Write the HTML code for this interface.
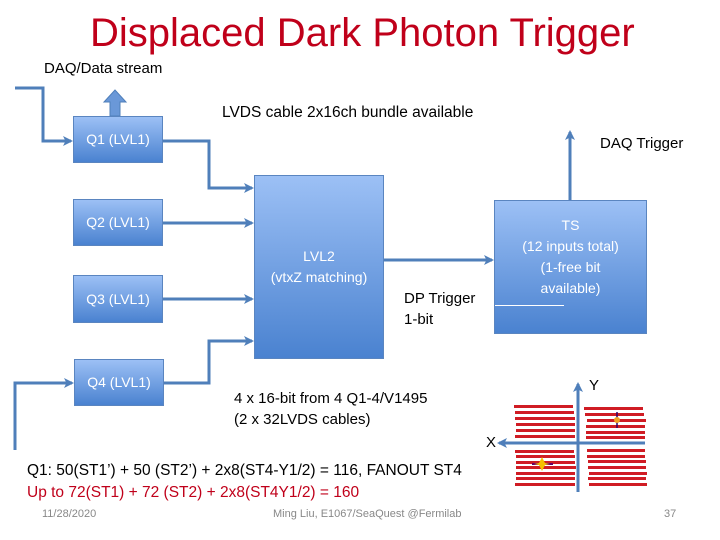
<!DOCTYPE html>
<html><head><meta charset="utf-8"><style>
body{margin:0;width:720px;height:540px;background:#fff;overflow:hidden;position:relative;font-family:"Liberation Sans",sans-serif}
.t{position:absolute;white-space:nowrap;color:#000}
.box{position:absolute;background:linear-gradient(#9cc0f5,#4a82d0);border:1px solid #5a85c0;box-sizing:border-box;color:#fff;display:flex;align-items:center;justify-content:center;text-align:center;font-size:14px;line-height:21px}
</style></head><body>
<div class="t" style="left:90px;top:11px;font-size:40px;color:#c0001a">Displaced Dark Photon Trigger</div>
<div class="t" style="left:44px;top:60px;font-size:15px">DAQ/Data stream</div>
<div class="t" style="left:222px;top:104px;font-size:15.5px">LVDS cable 2x16ch bundle available</div>
<div class="t" style="left:600px;top:135px;font-size:15px">DAQ Trigger</div>
<svg width="720" height="540" style="position:absolute;left:0;top:0">
<defs><marker id="a" markerWidth="10" markerHeight="10" refX="8" refY="5" orient="auto" markerUnits="userSpaceOnUse"><path d="M0,0L10,5L0,10L2.5,5z" fill="#4f7fba"/></marker></defs>
<g stroke="#4f7fba" stroke-width="3" fill="none">
<path d="M15,88H43V141H71" marker-end="url(#a)"/>
<path d="M163,141H209V188H252" marker-end="url(#a)"/>
<path d="M163,223H252" marker-end="url(#a)"/>
<path d="M163,299H252" marker-end="url(#a)"/>
<path d="M164,383H209V341H252" marker-end="url(#a)"/>
<path d="M15,450V383H72" marker-end="url(#a)"/>
<path d="M384,260H492" marker-end="url(#a)"/>
<path d="M570,200V132" marker-end="url(#a)"/>
<path d="M578,492V384" marker-end="url(#a)"/>
<path d="M645,443H499" marker-end="url(#a)"/>
</g>
<path d="M110,116V102H104L115,90L126,102H120V116Z" fill="#6a98d8" stroke="#4f7fba"/>
<g fill="#d01c24">
<rect x="514" y="405" width="59" height="3"/><rect x="515" y="411" width="59" height="3"/><rect x="515" y="417" width="60" height="3"/><rect x="516" y="423" width="59" height="3"/><rect x="516" y="429" width="59" height="3"/><rect x="515" y="435" width="60" height="3"/>
<rect x="584" y="407" width="59" height="3"/><rect x="585" y="413" width="59" height="3"/><rect x="587" y="419" width="59" height="3"/><rect x="586" y="425" width="59" height="3"/><rect x="586" y="431" width="59" height="3"/><rect x="586" y="436" width="59" height="3"/>
<rect x="515" y="450" width="59" height="3"/><rect x="516" y="455" width="59" height="3"/><rect x="516" y="461" width="59" height="3"/><rect x="516" y="466" width="60" height="3"/><rect x="516" y="472" width="59" height="3"/><rect x="516" y="477" width="59" height="3"/><rect x="515" y="483" width="60" height="3"/>
<rect x="587" y="449" width="58" height="3"/><rect x="587" y="455" width="58" height="3"/><rect x="588" y="460" width="58" height="3"/><rect x="588" y="466" width="58" height="3"/><rect x="589" y="472" width="58" height="3"/><rect x="588" y="477" width="58" height="3"/><rect x="589" y="483" width="58" height="3"/>
</g>
<path d="M617,412V428" stroke="#330066" stroke-width="1.5"/><circle cx="617" cy="420" r="3" fill="#f0a020"/>
<path d="M532,464H553" stroke="#660066" stroke-width="2"/><path d="M542,457L545,463L550,464L545,465L542,471L539,465L534,464L539,463Z" fill="#f5c000"/>
</svg>
<div class="box" style="left:73px;top:116px;width:90px;height:47px">Q1 (LVL1)</div>
<div class="box" style="left:73px;top:199px;width:90px;height:47px">Q2 (LVL1)</div>
<div class="box" style="left:73px;top:275px;width:90px;height:48px">Q3 (LVL1)</div>
<div class="box" style="left:74px;top:359px;width:90px;height:47px">Q4 (LVL1)</div>
<div class="box" style="left:254px;top:175px;width:130px;height:184px">LVL2<br>(vtxZ matching)</div>
<div class="box" style="left:494px;top:200px;width:153px;height:134px;padding-bottom:20px">TS<br>(12 inputs total)<br>(1-free bit<br>available)</div>
<div style="position:absolute;left:495px;top:305px;width:69px;height:1px;background:#fff"></div>
<div class="t" style="left:404px;top:288px;font-size:15px;line-height:21px">DP Trigger<br>1-bit</div>
<div class="t" style="left:234px;top:388px;font-size:15px;line-height:21px">4 x 16-bit from 4 Q1-4/V1495<br>(2 x 32LVDS cables)</div>
<div class="t" style="left:589px;top:377px;font-size:15px">Y</div>
<div class="t" style="left:486px;top:434px;font-size:15px">X</div>
<div class="t" style="left:27px;top:462px;font-size:15.5px">Q1: 50(ST1’) + 50 (ST2’) + 2x8(ST4-Y1/2) = 116, FANOUT ST4</div>
<div class="t" style="left:27px;top:484px;font-size:15.5px;color:#c0001a">Up to 72(ST1) + 72 (ST2) + 2x8(ST4Y1/2) = 160</div>
<div class="t" style="left:42px;top:508px;font-size:11px;color:#888">11/28/2020</div>
<div class="t" style="left:273px;top:508px;font-size:11px;color:#888">Ming Liu, E1067/SeaQuest @Fermilab</div>
<div class="t" style="left:664px;top:508px;font-size:11px;color:#888">37</div>
</body></html>
